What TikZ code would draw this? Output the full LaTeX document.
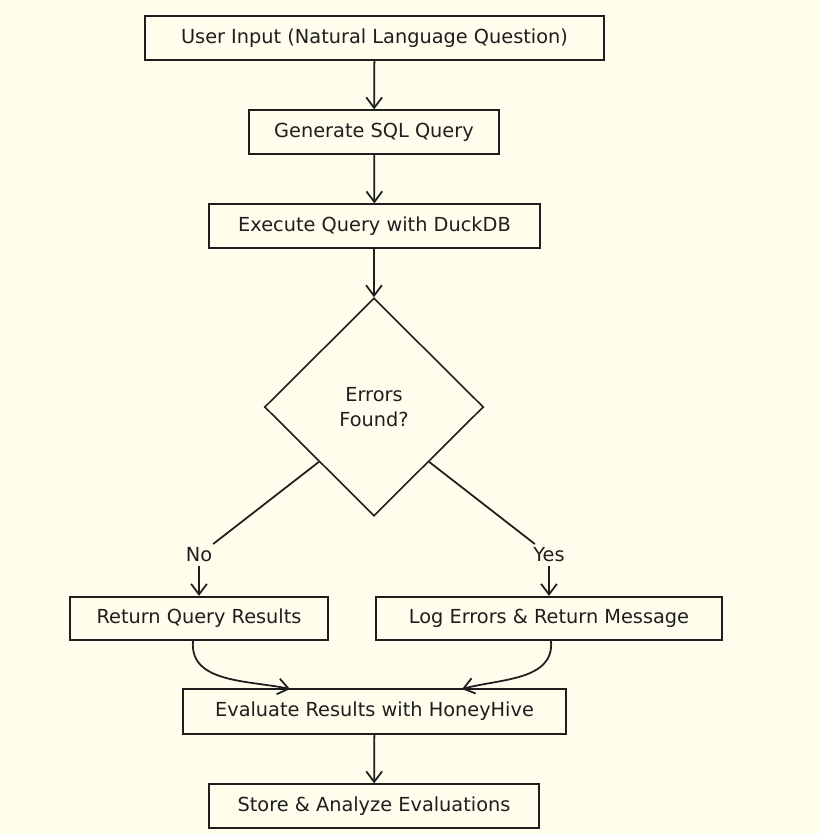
\documentclass[tikz,border=0pt]{standalone}
\usepackage{fontspec}
\setmainfont{DejaVu Sans}
\usepackage{xcolor}
\usepackage{tikz}
\usetikzlibrary{positioning,arrows.meta,shapes.geometric}
\definecolor{bgcream}{RGB}{255,253,235}
\definecolor{inkgray}{RGB}{30,30,30}

\tikzset{
    stepbox/.style={
        draw=inkgray,
        fill=bgcream,
        line width=1pt,
        minimum height=0.87cm,
        inner sep=4pt,
        font=\fontsize{11}{14}\selectfont,
        text=inkgray
    },
    decision/.style={
        diamond,
        draw=inkgray,
        fill=bgcream,
        line width=0.9pt,
        minimum width=4.38cm,
        minimum height=4.36cm,
        inner sep=0pt,
        align=center,
        font=\fontsize{11}{14.2}\selectfont,
        text=inkgray
    },
    edgelabel/.style={
        fill=bgcream,
        inner sep=2pt,
        font=\fontsize{11}{14}\selectfont,
        text=inkgray
    },
    flow/.style={
        draw=inkgray,
        line width=1pt,
        -{Straight Barb[length=6pt,width=9pt,line width=1pt]}
    },
    link/.style={
        draw=inkgray,
        line width=1pt
    }
}

\begin{document}
\begin{tikzpicture}[x=0.02cm,y=-0.02cm]
    \fill[bgcream] (0,0) rectangle (819,834);

    \node[stepbox, minimum width=9.18cm] (input) at (374.5,38) {User Input (Natural Language Question)};
    \node[stepbox, minimum width=5.0cm] (gensql) at (374,132) {Generate SQL Query};
    \node[stepbox, minimum width=6.62cm] (exec) at (374.5,226) {Execute Query with DuckDB};
    \node[decision] (errors) at (374,407) {Errors\\Found?};
    \node[stepbox, minimum width=5.16cm] (results) at (199,618.5) {Return Query Results};
    \node[stepbox, minimum width=6.92cm] (logerr) at (549,618.5) {Log Errors \& Return Message};
    \node[stepbox, minimum width=7.66cm, minimum height=0.9cm] (evaluate) at (374.5,711.5) {Evaluate Results with HoneyHive};
    \node[stepbox, minimum width=6.6cm] (store) at (374,806) {Store \& Analyze Evaluations};

    \node[edgelabel] (nolbl) at (199,555) {No};
    \node[edgelabel] (yeslbl) at (549,555) {Yes};
    \coordinate (evalleft) at (290,689);
    \coordinate (evalright) at (462,689);

    \draw[flow] (input) -- (gensql);
    \draw[flow] (gensql) -- (exec);
    \draw[flow] (exec.south -| errors.north) -- (errors);
    \draw[link] (errors.south west) -- (nolbl);
    \draw[flow] (nolbl) -- (results);
    \draw[link] (errors.south east) -- (yeslbl);
    \draw[flow] (yeslbl) -- (logerr);
    \draw[flow] (results.south) ++(-6,0) to[out=-95,in=168] (evalleft);
    \draw[flow] (logerr.south) ++(2,0) to[out=-85,in=15] (evalright);
    \draw[flow] (evaluate) -- (store);
\end{tikzpicture}
\end{document}
